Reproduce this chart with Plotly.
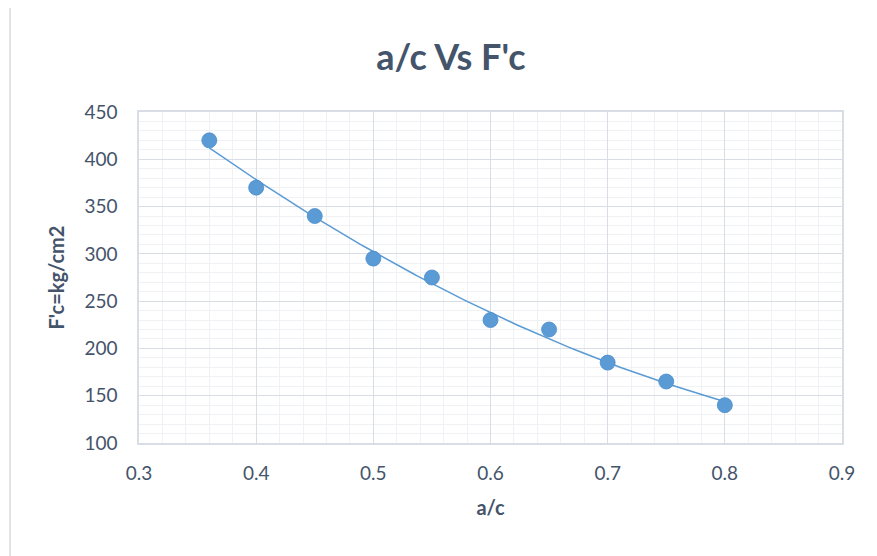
import numpy as np
import plotly.graph_objects as go

ac = [0.36, 0.40, 0.45, 0.50, 0.55, 0.60, 0.65, 0.70, 0.75, 0.80]
fc = [420, 370, 340, 295, 275, 230, 220, 185, 165, 140]

x_ticks = [0.3, 0.4, 0.5, 0.6, 0.7, 0.8, 0.9]
y_ticks = [100, 150, 200, 250, 300, 350, 400, 450]

# polynomial (order 2) trendline, like Excel's
coef = np.polyfit(ac, fc, 2)
tx = np.linspace(min(ac), max(ac), 100)
ty = np.polyval(coef, tx)

txt = "#44546A"
font = "Lato, 'Open Sans', sans-serif"

fig = go.Figure()
fig.add_trace(go.Scatter(x=tx, y=ty, mode="lines",
                         line=dict(color="#5B9BD5", width=1.5),
                         showlegend=False, hoverinfo="skip"))
fig.add_trace(go.Scatter(x=ac, y=fc, mode="markers",
                         marker=dict(color="#5B9BD5", size=15,
                                     line=dict(color="#4A8BC9", width=0.8)),
                         showlegend=False))

fig.update_layout(
    width=877, height=556,
    margin=dict(l=131, r=43, t=104, b=121),
    paper_bgcolor="white", plot_bgcolor="white",
    font=dict(family=font, color=txt),
    title=dict(text="<b>a/c Vs F'c</b>", x=0.505, xanchor="center",
               y=1 - 49/556, yanchor="middle",
               font=dict(size=36, color=txt, family=font)),
    xaxis=dict(range=[0.3, 0.9], tickvals=x_ticks,
               ticktext=[f"{v:.1f}" for v in x_ticks],
               showgrid=True, gridcolor="#D9DEE6", gridwidth=1.2,
               minor=dict(dtick=0.02, showgrid=True, gridcolor="#F0F1F4", gridwidth=1),
               showline=True, linecolor="#D9DEE6", linewidth=1.5, mirror=True,
               zeroline=False, ticks="",
               tickfont=dict(size=19, color=txt), ticklabelstandoff=12,
               title=dict(text="<b>a/c</b>", font=dict(size=20, color=txt), standoff=18)),
    yaxis=dict(range=[100, 450], tickvals=y_ticks,
               showgrid=True, gridcolor="#D9DEE6", gridwidth=1.2,
               minor=dict(dtick=10, showgrid=True, gridcolor="#F0F1F4", gridwidth=1),
               showline=True, linecolor="#D9DEE6", linewidth=1.5, mirror=True,
               zeroline=False, ticks="",
               tickfont=dict(size=19, color=txt), ticklabelstandoff=16,
               title=dict(text="<b>F'c=kg/cm2</b>", font=dict(size=20, color=txt), standoff=14)),
)

fig.add_shape(type="rect", xref="paper", yref="paper",
              x0=(10 - 139) / 703, x1=(880 - 139) / 703,
              y0=-(556 - 443) / 331 - 0.05, y1=1 + (112 - 7) / 331,
              line=dict(color="#D9D9D9", width=1.5), fillcolor="rgba(0,0,0,0)",
              layer="below")

fig.write_html("out.html")
